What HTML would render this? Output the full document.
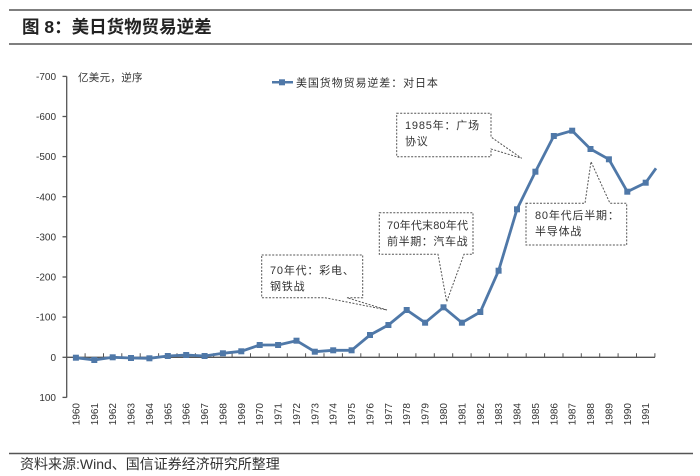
<!DOCTYPE html>
<html>
<head>
<meta charset="utf-8">
<style>
html,body{margin:0;padding:0;background:#fff;}
body{width:700px;height:476px;overflow:hidden;}
svg{display:block;}
.cj{font-family:"Liberation Sans","Noto Sans CJK SC",sans-serif;}
</style>
</head>
<body>
<svg width="700" height="476" viewBox="0 0 700 476" xmlns="http://www.w3.org/2000/svg">
<rect width="700" height="476" fill="#fff"/>
<!-- rules -->
<line x1="9" y1="10" x2="692" y2="10" stroke="#555" stroke-width="1.5"/>
<line x1="9" y1="44" x2="692" y2="44" stroke="#555" stroke-width="1.5"/>
<line x1="9" y1="453.5" x2="693" y2="453.5" stroke="#555" stroke-width="1.5"/>
<!-- title -->
<text x="22" y="33" class="cj" font-size="17.5" font-weight="bold" fill="#222">图 8：美日货物贸易逆差</text>
<!-- source -->
<text x="20" y="469" class="cj" font-size="14" fill="#333">资料来源:Wind、国信证券经济研究所整理</text>

<!-- y axis -->
<g stroke="#555" stroke-width="1.3">
<line x1="66.7" y1="76.4" x2="66.7" y2="397.5"/>
<line x1="62.5" y1="76.4" x2="66.7" y2="76.4"/>
<line x1="62.5" y1="116.5" x2="66.7" y2="116.5"/>
<line x1="62.5" y1="156.6" x2="66.7" y2="156.6"/>
<line x1="62.5" y1="196.7" x2="66.7" y2="196.7"/>
<line x1="62.5" y1="236.8" x2="66.7" y2="236.8"/>
<line x1="62.5" y1="277.0" x2="66.7" y2="277.0"/>
<line x1="62.5" y1="317.1" x2="66.7" y2="317.1"/>
<line x1="62.5" y1="357.3" x2="66.7" y2="357.3"/>
<line x1="62.5" y1="397.4" x2="66.7" y2="397.4"/>
<!-- x axis -->
<line x1="66.7" y1="357.3" x2="655" y2="357.3"/>
</g>
<g stroke="#555" stroke-width="1">
<path d="M85.1 357.3v-4M103.5 357.3v-4M121.8 357.3v-4M140.2 357.3v-4M158.6 357.3v-4M177 357.3v-4M195.4 357.3v-4M213.7 357.3v-4M232.1 357.3v-4M250.5 357.3v-4M268.9 357.3v-4M287.3 357.3v-4M305.6 357.3v-4M324 357.3v-4M342.4 357.3v-4M360.8 357.3v-4M379.2 357.3v-4M397.5 357.3v-4M415.9 357.3v-4M434.3 357.3v-4M452.7 357.3v-4M471.1 357.3v-4M489.4 357.3v-4M507.8 357.3v-4M526.2 357.3v-4M544.6 357.3v-4M563 357.3v-4M581.3 357.3v-4M599.7 357.3v-4M618.1 357.3v-4M636.5 357.3v-4M654.9 357.3v-4"/>
</g>
<!-- y labels -->
<g font-family="Liberation Sans, sans-serif" font-size="10" fill="#333" text-anchor="end">
<text x="56" y="80">-700</text>
<text x="56" y="120">-600</text>
<text x="56" y="160">-500</text>
<text x="56" y="200.3">-400</text>
<text x="56" y="240.4">-300</text>
<text x="56" y="280.6">-200</text>
<text x="56" y="320.7">-100</text>
<text x="56" y="360.9">0</text>
<text x="56" y="401">100</text>
</g>
<!-- x labels -->
<g font-family="Liberation Sans, sans-serif" font-size="10" fill="#333" text-anchor="end">
<text transform="translate(79.4,403) rotate(-90)">1960</text>
<text transform="translate(97.8,403) rotate(-90)">1961</text>
<text transform="translate(116.2,403) rotate(-90)">1962</text>
<text transform="translate(134.5,403) rotate(-90)">1963</text>
<text transform="translate(152.9,403) rotate(-90)">1964</text>
<text transform="translate(171.3,403) rotate(-90)">1965</text>
<text transform="translate(189.7,403) rotate(-90)">1966</text>
<text transform="translate(208.1,403) rotate(-90)">1967</text>
<text transform="translate(226.4,403) rotate(-90)">1968</text>
<text transform="translate(244.8,403) rotate(-90)">1969</text>
<text transform="translate(263.2,403) rotate(-90)">1970</text>
<text transform="translate(281.6,403) rotate(-90)">1971</text>
<text transform="translate(300,403) rotate(-90)">1972</text>
<text transform="translate(318.3,403) rotate(-90)">1973</text>
<text transform="translate(336.7,403) rotate(-90)">1974</text>
<text transform="translate(355.1,403) rotate(-90)">1975</text>
<text transform="translate(373.5,403) rotate(-90)">1976</text>
<text transform="translate(391.9,403) rotate(-90)">1977</text>
<text transform="translate(410.2,403) rotate(-90)">1978</text>
<text transform="translate(428.6,403) rotate(-90)">1979</text>
<text transform="translate(447,403) rotate(-90)">1980</text>
<text transform="translate(465.4,403) rotate(-90)">1981</text>
<text transform="translate(483.8,403) rotate(-90)">1982</text>
<text transform="translate(502.1,403) rotate(-90)">1983</text>
<text transform="translate(520.5,403) rotate(-90)">1984</text>
<text transform="translate(538.9,403) rotate(-90)">1985</text>
<text transform="translate(557.3,403) rotate(-90)">1986</text>
<text transform="translate(575.7,403) rotate(-90)">1987</text>
<text transform="translate(594,403) rotate(-90)">1988</text>
<text transform="translate(612.4,403) rotate(-90)">1989</text>
<text transform="translate(630.8,403) rotate(-90)">1990</text>
<text transform="translate(649.2,403) rotate(-90)">1991</text>
</g>

<!-- unit label -->
<text x="78" y="81" class="cj" font-size="10.5" fill="#333" letter-spacing="0.3">亿美元，逆序</text>

<!-- legend -->
<line x1="272" y1="82.3" x2="293" y2="82.3" stroke="#4f78a8" stroke-width="2.5"/>
<rect x="279" y="79.3" width="6" height="6" fill="#4f78a8"/>
<text x="296" y="86.3" class="cj" font-size="11" fill="#333" letter-spacing="0.9">美国货物贸易逆差：对日本</text>

<!-- callouts -->
<g fill="#fff" stroke="#555" stroke-width="1" stroke-dasharray="2,1.5">
<path d="M261.7 255H362.7V297.7H347L387 310L325 297.7H261.7Z"/>
<path d="M379.3 212.7H473V254.3H464L446.7 301.7L438 254.3H379.3Z"/>
<path d="M396.7 113.3H491V137L521.7 158.3L491 149V156.7H396.7Z"/>
<path d="M526 203.3H585L591 161.7L610 203.3H626.7V245H526Z"/>
</g>
<g class="cj" font-size="11" fill="#333" letter-spacing="0.8">
<text x="270" y="274">70年代：彩电、</text>
<text x="270" y="290">钢铁战</text>
<text x="387" y="229" letter-spacing="0.2">70年代末80年代</text>
<text x="387" y="245" letter-spacing="0.6">前半期：汽车战</text>
<text x="405" y="129">1985年：广场</text>
<text x="405" y="145">协议</text>
<text x="535" y="219">80年代后半期：</text>
<text x="535" y="235">半导体战</text>
</g>

<!-- series -->
<polyline fill="none" stroke="#4f78a8" stroke-width="2.8" stroke-linejoin="round"
points="75.9,357.7 94.3,360 112.7,357.3 131,358 149.4,358.3 167.8,356 186.2,355 204.6,356 222.9,353.3 241.3,351.3 259.7,345 278.1,345 296.5,340.7 314.8,351.7 333.2,350.3 351.6,350.3 370,335 388.4,325 406.7,310 425.1,322.7 443.5,307.3 461.9,322.7 480.3,312 498.6,270.7 517,209.3 535.4,171.7 553.8,136 572.2,130.7 590.5,149 608.9,159.3 627.3,191.7 645.7,182.7 656,168.3"/>
<g fill="#4f78a8">
<rect x="72.9" y="354.7" width="6" height="6"/>
<rect x="91.3" y="357" width="6" height="6"/>
<rect x="109.7" y="354.3" width="6" height="6"/>
<rect x="128" y="355" width="6" height="6"/>
<rect x="146.4" y="355.3" width="6" height="6"/>
<rect x="164.8" y="353" width="6" height="6"/>
<rect x="183.2" y="352" width="6" height="6"/>
<rect x="201.6" y="353" width="6" height="6"/>
<rect x="219.9" y="350.3" width="6" height="6"/>
<rect x="238.3" y="348.3" width="6" height="6"/>
<rect x="256.7" y="342" width="6" height="6"/>
<rect x="275.1" y="342" width="6" height="6"/>
<rect x="293.5" y="337.7" width="6" height="6"/>
<rect x="311.8" y="348.7" width="6" height="6"/>
<rect x="330.2" y="347.3" width="6" height="6"/>
<rect x="348.6" y="347.3" width="6" height="6"/>
<rect x="367" y="332" width="6" height="6"/>
<rect x="385.4" y="322" width="6" height="6"/>
<rect x="403.7" y="307" width="6" height="6"/>
<rect x="422.1" y="319.7" width="6" height="6"/>
<rect x="440.5" y="304.3" width="6" height="6"/>
<rect x="458.9" y="319.7" width="6" height="6"/>
<rect x="477.3" y="309" width="6" height="6"/>
<rect x="495.6" y="267.7" width="6" height="6"/>
<rect x="514" y="206.3" width="6" height="6"/>
<rect x="532.4" y="168.7" width="6" height="6"/>
<rect x="550.8" y="133" width="6" height="6"/>
<rect x="569.2" y="127.7" width="6" height="6"/>
<rect x="587.5" y="146" width="6" height="6"/>
<rect x="605.9" y="156.3" width="6" height="6"/>
<rect x="624.3" y="188.7" width="6" height="6"/>
<rect x="642.7" y="179.7" width="6" height="6"/>
</g>
</svg>
</body>
</html>
